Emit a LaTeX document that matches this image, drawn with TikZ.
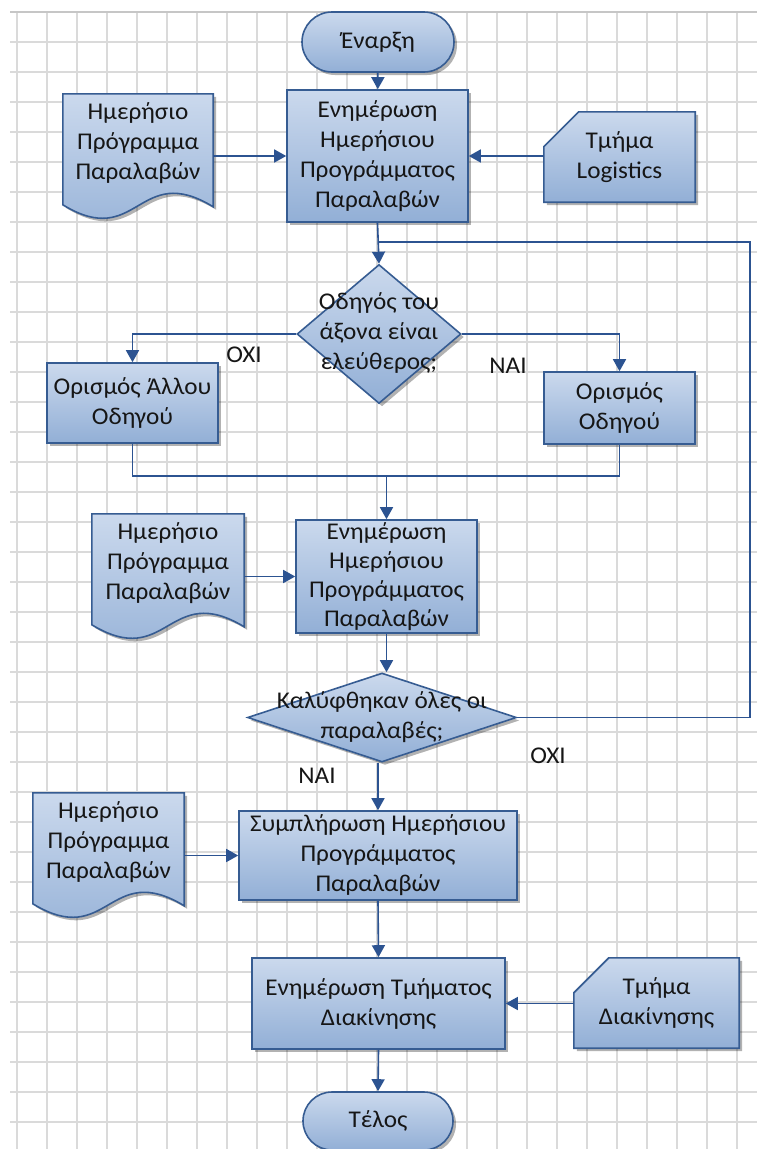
\documentclass[tikz,border=0pt]{standalone}
\usepackage{fontspec}
\setmainfont[FakeStretch=1.05]{Carlito}
\usetikzlibrary{arrows.meta,shapes.geometric,shapes.misc,shadows,calc}

\definecolor{gridline}{RGB}{218,218,218}
\definecolor{gridedge}{RGB}{198,198,198}
\definecolor{boxtop}{RGB}{203,217,237}
\definecolor{boxbot}{RGB}{146,175,214}
\definecolor{boxline}{RGB}{54,92,146}
\definecolor{flow}{RGB}{44,83,145}
\definecolor{ink}{RGB}{22,22,22}

\pgfdeclarelayer{grid}
\pgfdeclarelayer{back}
\pgfsetlayers{grid,back,main}

\tikzset{
  txt/.style={text=ink, align=center, inner sep=0pt},
  shade/.style={draw=boxline, line width=1.6pt, top color=boxtop, bottom color=boxbot,
    drop shadow={shadow xshift=3pt, shadow yshift=-3pt, opacity=0.3, fill=black}},
  proc/.style 2 args={txt, shade, rectangle, minimum width=#1, minimum height=#2},
  term/.style 2 args={txt, shade, rounded rectangle, minimum width=#1, minimum height=#2},
  decision/.style 2 args={shade, diamond, inner sep=0pt, minimum width=#1, minimum height=#2},
  docbox/.style 2 args={txt, minimum width=#1, minimum height=#2},
  lbl/.style={text=ink, inner sep=0pt},
  conn/.style={draw=flow, line width=1.6pt},
  arr/.style={conn, -{Triangle[width=13pt,length=12pt]}},
}

% paper sheet with a wavy lower edge, drawn behind the text node #1
\newcommand\docoutline[1]{%
  \begin{pgfonlayer}{back}
    \path[shade] (#1.north west) -- (#1.north east)
      -- ($(#1.north east)+(0,113)$)
      .. controls ($(#1.north)+(0,67)$) and ($(#1.north)+(0,157)$)
      .. ($(#1.north west)+(0,111)$) -- cycle;
  \end{pgfonlayer}}

% card with a cut upper-left corner, drawn behind the text node #1
\newcommand\cardoutline[1]{%
  \begin{pgfonlayer}{back}
    \path[shade] (#1.south west) -- ($(#1.north west)+(0,35)$)
      -- ($(#1.north west)+(35,0)$) -- (#1.north east)
      -- (#1.south east) -- cycle;
  \end{pgfonlayer}}

\begin{document}
\begin{tikzpicture}[x=1pt,y=-1pt,font=\fontsize{24}{30}\selectfont]
\useasboundingbox (0,0) rectangle (757,1149);

% squared paper
\begin{pgfonlayer}{grid}
  \fill[white] (0,0) rectangle (757,1149);
  \foreach \k in {0,...,24}
    \draw[gridline, line width=1.6pt] ({16.7+30*\k},12) -- ({16.7+30*\k},1149);
  \foreach \k in {1,...,37}
    \draw[gridline, line width=1.6pt] (10,{11.7+30*\k}) -- (757,{11.7+30*\k});
  \draw[gridedge, line width=1.6pt] (10,12) -- (757,12);
\end{pgfonlayer}

% terminals
\node[term={152pt}{60pt}] (start) at (378,42) {Έναρξη};
\node[term={150pt}{58pt}] (end) at (378,1121) {Τέλος};

% first update step and its inputs
\node[proc={181pt}{132pt}] (p1) at (377.5,156)
  {Ενημέρωση\\Ημερήσιου\\Προγράμματος\\Παραλαβών};
\node[docbox={150pt}{98pt}] (doc1) at (138,143) {Ημερήσιο\\Πρόγραμμα\\Παραλαβών};
\docoutline{doc1}
\node[txt, minimum width=151pt, minimum height=90pt] (card1) at (619.5,157) {Τμήμα\\Logistics};
\cardoutline{card1}

% driver decision
\node[decision={164pt}{139pt}] (dia1) at (379,334) {};
\node[txt] (q1) at (379,333) {Οδηγός του\\άξονα είναι\\ελεύθερος;};
\node[proc={171pt}{80pt}] (other) at (132.5,403) {Ορισμός Άλλου\\Οδηγού};
\node[proc={151pt}{72pt}] (assign) at (619.5,408) {Ορισμός\\Οδηγού};
\node[lbl] (no1) at (244,355) {ΟΧΙ};
\node[lbl] (yes1) at (508,366) {ΝΑΙ};

% second update step
\node[proc={181pt}{113pt}, font=\fontsize{24}{29}\selectfont] (p2) at (386.5,576.5)
  {Ενημέρωση\\Ημερήσιου\\Προγράμματος\\Παραλαβών};
\node[docbox={152pt}{98pt}] (doc2) at (168,563) {Ημερήσιο\\Πρόγραμμα\\Παραλαβών};
\docoutline{doc2}

% coverage decision
\node[decision={269pt}{89pt}] (dia2) at (382,717.5) {};
\node[txt] (q2) at (382,717) {Καλύφθηκαν όλες οι\\παραλαβές;};
\node[lbl] (no2) at (548,756) {ΟΧΙ};
\node[lbl] (yes2) at (317,776) {ΝΑΙ};

% completion and notification
\node[proc={278pt}{89pt}] (p3) at (378,855.5)
  {Συμπλήρωση Ημερήσιου\\Προγράμματος\\Παραλαβών};
\node[docbox={151pt}{98pt}] (doc3) at (108.5,842) {Ημερήσιο\\Πρόγραμμα\\Παραλαβών};
\docoutline{doc3}
\node[proc={253pt}{91pt}] (p4) at (378.5,1003.5) {Ενημέρωση Τμήματος\\Διακίνησης};
\node[txt, minimum width=165pt, minimum height=90pt] (card2) at (656.5,1003) {Τμήμα\\Διακίνησης};
\cardoutline{card2}

% connectors
\coordinate (loop) at (750,242);
\coordinate (merge) at (386.5,476);
\draw[arr] (start) -- (p1);
\draw[arr] (doc1.east |- p1.west) -- (p1.west);
\draw[arr] (card1.west |- p1.east) -- (p1.east);
\draw[arr] (p1.south) -- (dia1.north);
\draw[arr] (dia1.west) -| (other.north);
\draw[arr] (dia1.east) -| (assign.north);
\draw[conn] (other.south) |- (merge) -| (assign.south);
\draw[arr] (merge) -- (p2.north);
\draw[arr] (doc2.east |- p2.west) -- (p2.west);
\draw[arr] (p2.south) -- (p2.south |- dia2.north);
\draw[conn] (dia2.east) -| (loop) -- (loop -| p1.south);
\draw[arr] (dia2.south -| p3.north) -- (p3.north);
\draw[arr] (doc3.east |- p3.west) -- (p3.west);
\draw[arr] (p3.south) -- (p4.north);
\draw[arr] (card2.west |- p4.east) -- (p4.east);
\draw[arr] (p4.south) -- (end.north);
\end{tikzpicture}
\end{document}
